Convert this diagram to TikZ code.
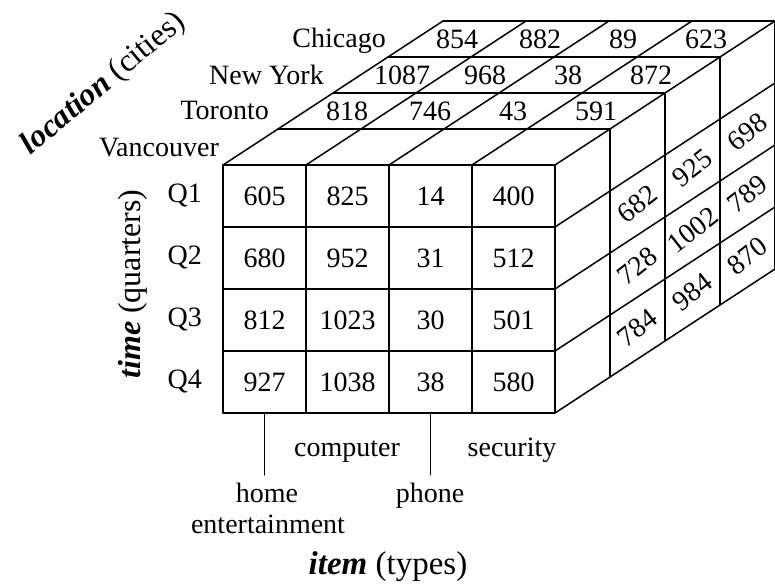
\documentclass[tikz,border=0pt]{standalone}
\usepackage{fontspec}
\setmainfont{Liberation Serif}
\begin{document}
\begin{tikzpicture}[x=1pt,y=1pt,
  font=\fontsize{28}{32}\selectfont,
  grid/.style={line width=1.5pt, line cap=round},
  val/.style={inner sep=0pt},
  sideval/.style={inner sep=0pt, rotate=38},
  lab/.style={inner sep=0pt},
  axis/.style={inner sep=0pt, font=\fontsize{32}{36}\selectfont}]
\useasboundingbox (0,0) rectangle (775,583);
\begin{scope}[shift={(223,418)}, x={(83pt,0pt)}, y={(0pt,-62pt)}, z={(55pt,36pt)}]
  % front face
  \foreach \i in {0,...,4} \draw[grid] (\i,0,0) -- (\i,4,0);
  \foreach \j in {0,...,4} \draw[grid] (0,\j,0) -- (4,\j,0);
  % top face
  \foreach \i in {0,...,4} \draw[grid] (\i,0,0) -- (\i,0,4);
  \foreach \k in {1,...,4} \draw[grid] (0,0,\k) -- (4,0,\k);
  % right face
  \foreach \k in {1,...,4} \draw[grid] (4,0,\k) -- (4,4,\k);
  \foreach \j in {1,...,4} \draw[grid] (4,\j,0) -- (4,\j,4);
  % front values
  \foreach \v [count=\i from 0] in {605,825,14,400} \node[val] (fa\i) at (\i+0.5,0.5,0) {\v};
  \foreach \v [count=\i from 0] in {680,952,31,512} \node[val] (fb\i) at (\i+0.5,1.5,0) {\v};
  \foreach \v [count=\i from 0] in {812,1023,30,501} \node[val] (fc\i) at (\i+0.5,2.5,0) {\v};
  \foreach \v [count=\i from 0] in {927,1038,38,580} \node[val] (fd\i) at (\i+0.5,3.5,0) {\v};
  % top values
  \foreach \v [count=\i from 0] in {818,746,43,591} \node[val] (ta\i) at (\i+0.5,0,1.5) {\v};
  \foreach \v [count=\i from 0] in {1087,968,38,872} \node[val] (tb\i) at (\i+0.5,0,2.5) {\v};
  \foreach \v [count=\i from 0] in {854,882,89,623} \node[val] (tc\i) at (\i+0.5,0,3.5) {\v};
  % right values
  \foreach \v [count=\j from 1] in {682,728,784} \node[sideval] (ra\j) at (4,\j+0.5,1.5) {\v};
  \foreach \v [count=\j from 1] in {925,1002,984} \node[sideval] (rb\j) at (4,\j+0.5,2.5) {\v};
  \foreach \v [count=\j from 1] in {698,789,870} \node[sideval] (rc\j) at (4,\j+0.5,3.5) {\v};
  % quarter labels
  \foreach \q [count=\j from 0] in {Q1,Q2,Q3,Q4} \node[lab, anchor=east, xshift=-21pt] (q\j) at (0,\j+0.5,0) {\q};
  % item ticks
  \coordinate (he0) at (0.5,4,0);
  \coordinate (he1) at (0.5,5,0);
  \coordinate (ph0) at (2.5,4,0);
  \coordinate (ph1) at (2.5,5,0);
  \draw[grid] (he0) -- (he1);
  \draw[grid] (ph0) -- (ph1);
\end{scope}
% city labels
\node[lab, anchor=base east] (van) at (219,426) {Vancouver};
\node[lab, anchor=base east] (tor) at (269,463) {Toronto};
\node[lab, anchor=base east] (ny) at (324,498) {New York};
\node[lab, anchor=base east] (chi) at (386,535) {Chicago};
% item labels
\node[lab, anchor=base] (comp) at (347,126) {computer};
\node[lab, anchor=base] (sec) at (512,126) {security};
\node[lab, anchor=base] (home) at (267,81) {home};
\node[lab, anchor=base] (ent) at (268,50) {entertainment};
\node[lab, anchor=base] (phone) at (430,81) {phone};
% axis titles
\node[axis, anchor=base, font=\fontsize{33}{36}\selectfont] (itemt) at (388,9) {\textbf{\textit{item}} (types)};
\node[axis, rotate=90] (timet) at (133,299) {\textbf{\textit{time}} (quarters)};
\node[axis, rotate=40] (loct) at (104,499) {\textbf{\textit{location}} (cities)};
\end{tikzpicture}
\end{document}
